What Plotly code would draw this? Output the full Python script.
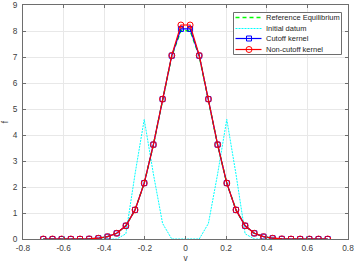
import plotly.graph_objects as go

v_half = [-0.7, -0.6548, -0.6097, -0.5645, -0.5194, -0.4742, -0.4290, -0.3839,
          -0.3387, -0.2935, -0.2484, -0.2032, -0.1581, -0.1129, -0.0677, -0.0226]
v = v_half + [-x for x in reversed(v_half)]

red_half = [0, 0, 0, 0, 0, 0.005, 0.03, 0.09, 0.22, 0.51, 1.12, 2.15, 3.63, 5.38, 7.06, 8.23]
blue_half = [0, 0, 0, 0, 0, 0.005, 0.03, 0.09, 0.22, 0.51, 1.12, 2.15, 3.63, 5.38, 7.05, 8.08]
green_half = [0, 0, 0, 0, 0, 0.005, 0.03, 0.09, 0.22, 0.51, 1.12, 2.15, 3.62, 5.37, 7.03, 8.01]
cyan_half = [0, 0, 0, 0, 0, 0, 0, 0, 0, 0.2, 2.5, 4.6, 2.5, 0.6, 0, 0]

def mirror(h):
    return h + list(reversed(h))

f_ref = mirror(green_half)
f_init = mirror(cyan_half)
f_cut = mirror(blue_half)
f_noncut = mirror(red_half)

series_names = ["Reference Equilibrium", "Initial datum", "Cutoff kernel", "Non-cutoff kernel"]
series_colors = ["#00FF00", "#00FFFF", "#0000FF", "#FF0000"]
series_dash = ["4px,3px", "2px,1px", "solid", "solid"]
legend_widths = [1.6, 1.2, 1.2, 1.2]

xticks = [-0.8, -0.6, -0.4, -0.2, 0, 0.2, 0.4, 0.6, 0.8]
yticks = [0, 1, 2, 3, 4, 5, 6, 7, 8, 9]

W, H = 354, 266
ML, MR, MT, MB = 23, 6, 5, 27
PW, PH = W - ML - MR, H - MT - MB

def px(xp):
    return (xp - ML) / PW

def py(yp):
    return (H - MB - yp) / PH

fig = go.Figure()
fig.add_trace(go.Scatter(x=v, y=f_ref, mode="lines", name=series_names[0], showlegend=False,
                         line=dict(color=series_colors[0], width=1.4, dash=series_dash[0])))
fig.add_trace(go.Scatter(x=v, y=f_init, mode="lines", name=series_names[1], showlegend=False,
                         line=dict(color=series_colors[1], width=1, dash=series_dash[1])))
fig.add_trace(go.Scatter(x=v, y=f_cut, mode="lines+markers", name=series_names[2], showlegend=False,
                         line=dict(color=series_colors[2], width=1.2),
                         marker=dict(symbol="square-open", size=5, color=series_colors[2],
                                     line=dict(width=1, color=series_colors[2]))))
fig.add_trace(go.Scatter(x=v, y=f_noncut, mode="lines+markers", name=series_names[3], showlegend=False,
                         line=dict(color=series_colors[3], width=1.2),
                         marker=dict(symbol="circle-open", size=6, color=series_colors[3],
                                     line=dict(width=1, color=series_colors[3]))))

# manual compact legend (Plotly's own legend rows are too tall for this size)
shapes = []
annotations = []
lx0, lx1, ly0, ly1 = 233.5, 341.5, 12.5, 54.5
shapes.append(dict(type="rect", xref="paper", yref="paper",
                   x0=px(lx0), x1=px(lx1), y0=py(ly1), y1=py(ly0),
                   fillcolor="white", line=dict(color="#6e6e6e", width=1), layer="above"))
row_y = [17.5, 28.5, 38.5, 49.5]
for i, name in enumerate(series_names):
    yy = row_y[i]
    shapes.append(dict(type="line", xref="paper", yref="paper",
                       x0=px(235.5), x1=px(261.5), y0=py(yy), y1=py(yy),
                       line=dict(color=series_colors[i], width=legend_widths[i],
                                 dash=series_dash[i]), layer="above"))
    if i == 2:
        shapes.append(dict(type="rect", xref="paper", yref="paper",
                           x0=px(246.5), x1=px(251.5), y0=py(yy + 2.5), y1=py(yy - 2.5),
                           line=dict(color=series_colors[i], width=1), layer="above"))
    if i == 3:
        shapes.append(dict(type="circle", xref="paper", yref="paper",
                           x0=px(246), x1=px(252), y0=py(yy + 3), y1=py(yy - 3),
                           line=dict(color=series_colors[i], width=1), layer="above"))
    annotations.append(dict(text=name, xref="paper", yref="paper",
                            x=px(263.5), y=py(yy), xanchor="left", yanchor="middle",
                            showarrow=False, font=dict(size=7.5, color="#262626")))

axis_common = dict(showgrid=True, gridcolor="#e8e8e8", gridwidth=1,
                   showline=True, linecolor="#6e6e6e", linewidth=1, mirror="ticks",
                   ticks="inside", ticklen=3, tickcolor="#6e6e6e",
                   ticklabeloverflow="allow",
                   zeroline=False, tickfont=dict(size=8.3, color="#404040"))

fig.update_layout(
    width=W, height=H,
    margin=dict(l=ML, r=MR, t=MT, b=MB, autoexpand=False),
    paper_bgcolor="white", plot_bgcolor="white",
    font=dict(family="Liberation Sans, Arial, sans-serif", size=8, color="#404040"),
    xaxis=dict(range=[-0.8, 0.8], tickvals=xticks, ticktext=[f"{t:g}" for t in xticks],
               ticklabelstandoff=1,
               title=dict(text="v", font=dict(size=8.3), standoff=3), **axis_common),
    yaxis=dict(range=[0, 9], tickvals=yticks, ticklabelstandoff=3,
               title=dict(text="f", font=dict(size=8.3), standoff=2), **axis_common),
    shapes=shapes,
    annotations=annotations,
    showlegend=False,
)

fig.write_html("out.html", config={"displayModeBar": False},
               post_script="document.body.style.margin='0';document.body.style.padding='0';")
